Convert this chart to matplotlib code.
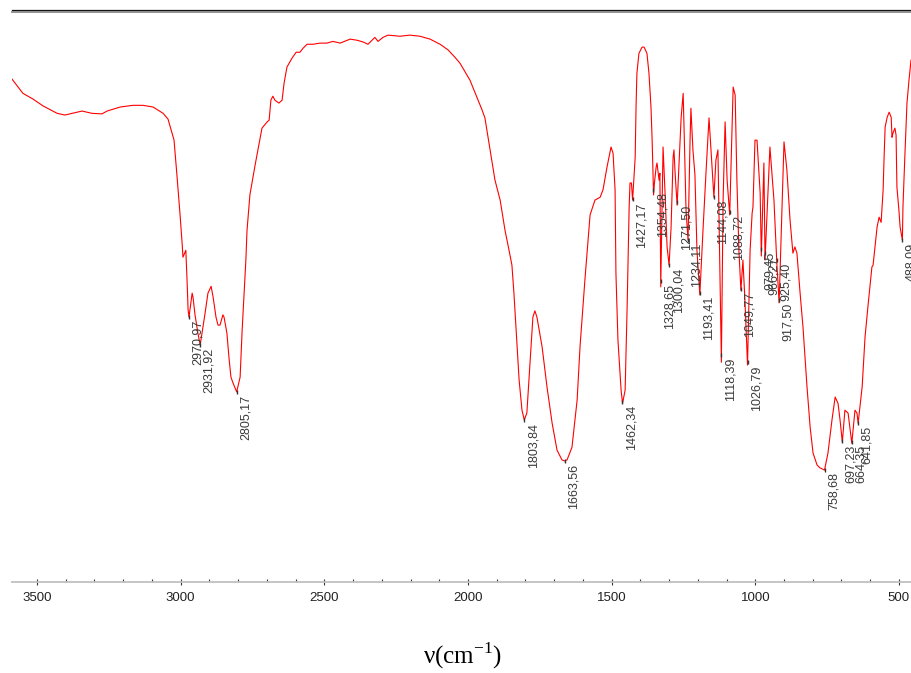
import matplotlib

matplotlib.use("Agg")
import matplotlib.pyplot as plt
import numpy as np
from matplotlib.lines import Line2D

# IR spectrum: wavenumber (cm-1) and transmittance (%),
# kept in short spectral segments so each pair of lists lines up.
wn_oh = [3587, 3549, 3514, 3479, 3430, 3403, 3378, 3343, 3309, 3274,
         3256, 3211, 3166, 3131, 3096, 3061, 3044]
t_oh = [88.1, 85.6, 84.6, 83.4, 82.1, 81.8, 82.1, 82.5, 82.1, 82.0,
        82.5, 83.2, 83.5, 83.5, 83.2, 82.1, 81.1]

wn_ch = [3023, 3013, 3002, 2995, 2992, 2982, 2978, 2974, 2971, 2960,
         2957, 2950, 2940, 2932, 2915, 2905, 2894, 2887, 2877, 2870,
         2863, 2853, 2849, 2839, 2832, 2825, 2818, 2805, 2793, 2786,
         2780, 2773, 2769]
t_ch = [77.4, 71.3, 64.3, 59.4, 56.9, 58.1, 53.2, 47.6, 46.4, 50.6,
        49.9, 46.8, 43.6, 41.5, 47.1, 50.6, 51.8, 49.9, 46.4, 45.0,
        45.0, 46.8, 46.4, 43.6, 39.4, 35.9, 34.9, 33.3, 35.9, 44.1,
        49.9, 56.4, 61.6]

wn_flat = [2759, 2741, 2717, 2699, 2692, 2686, 2679, 2672, 2658, 2647,
           2640, 2630, 2612, 2598, 2585, 2574, 2560, 2539, 2515, 2491,
           2470, 2445, 2410, 2386, 2365, 2348, 2324, 2313, 2296, 2278,
           2237, 2202, 2167, 2132, 2097, 2069, 2045, 2028, 1993, 1969,
           1951, 1941]
t_flat = [67.8, 73.0, 79.5, 80.6, 80.9, 84.4, 85.1, 84.4, 83.9, 84.4,
          87.4, 90.2, 91.8, 92.8, 92.8, 93.5, 94.2, 94.2, 94.4, 94.4,
          94.7, 94.4, 95.1, 94.9, 94.6, 94.2, 95.4, 94.7, 95.4, 95.8,
          95.6, 95.8, 95.6, 95.1, 94.2, 93.2, 91.9, 90.9, 87.9, 84.9,
          82.7, 81.3]

wn_co = [1923, 1906, 1888, 1871, 1857, 1847, 1840, 1829, 1822, 1812,
         1804, 1795, 1784, 1774, 1767, 1760, 1742, 1725, 1707, 1690,
         1673, 1664, 1655, 1638, 1620, 1610, 1600, 1593, 1582, 1575,
         1558, 1540, 1530, 1516, 1502, 1495, 1488, 1485, 1478, 1467]
t_co = [75.7, 70.4, 66.9, 61.6, 58.1, 55.5, 50.6, 41.2, 35.4, 30.1,
        28.4, 29.6, 38.4, 46.4, 47.5, 46.4, 41.2, 34.2, 27.8, 23.1,
        21.4, 21.2, 21.4, 23.6, 31.9, 41.2, 48.2, 52.9, 59.9, 64.3,
        66.9, 67.4, 68.7, 72.7, 76.2, 75.1, 68.7, 54.1, 42.4, 33.6]

wn_fp1 = [1462, 1453, 1446, 1439, 1436, 1431, 1427, 1418, 1415, 1412,
          1405, 1394, 1387, 1377, 1370, 1363, 1359, 1354, 1351, 1345,
          1342, 1335, 1332, 1329]
t_fp1 = [31.3, 33.6, 48.2, 65.7, 69.9, 69.9, 66.9, 74.4, 83.2, 89.1,
         92.6, 93.7, 93.7, 92.6, 89.1, 83.2, 77.4, 67.8, 69.9, 72.7,
         73.4, 70.4, 71.6, 51.7]

wn_fp2 = [1321, 1314, 1307, 1300, 1293, 1286, 1283, 1279, 1272, 1265,
          1258, 1251, 1248, 1241, 1234, 1227, 1224, 1217, 1210, 1203,
          1193, 1182, 1171, 1161, 1154, 1144, 1137, 1130]
t_fp2 = [76.2, 68.1, 58.7, 55.5, 62.2, 74.4, 75.7, 71.6, 66.0, 73.9,
         81.4, 85.6, 79.7, 65.1, 59.9, 77.4, 83.0, 75.7, 71.3, 58.1,
         50.3, 61.6, 72.2, 81.3, 75.7, 67.4, 73.9, 75.7]

wn_fp3 = [1118, 1112, 1105, 1098, 1089, 1077, 1070, 1064, 1057, 1050,
          1043, 1036, 1027, 1018, 1011, 1008, 1001, 994, 983, 979,
          970, 966, 949, 935, 925, 917, 900, 890]
t_fp3 = [38.5, 66.9, 80.6, 70.4, 64.3, 86.7, 85.3, 70.4, 58.1, 51.1,
         56.4, 49.4, 38.0, 58.1, 64.6, 65.7, 77.4, 77.4, 68.1, 57.1,
         73.4, 56.4, 76.2, 66.9, 55.9, 48.9, 77.1, 72.2]

wn_low = [879, 869, 862, 855, 844, 834, 820, 809, 799, 785,
          775, 759, 747, 733, 722, 712, 705, 697, 688, 677,
          664, 653, 646, 642, 628, 618, 608, 594, 590, 576,
          569, 562, 555, 552, 548, 541, 534, 527, 524, 521,
          514, 510, 507, 500, 496, 488, 486, 479, 472, 465,
          458]
t_low = [63.4, 57.6, 58.7, 57.6, 50.6, 44.7, 34.2, 27.1, 22.6, 20.5,
         20.0, 19.6, 22.6, 28.4, 32.4, 31.3, 28.4, 24.5, 30.1, 29.6,
         24.3, 30.1, 29.6, 27.8, 34.2, 42.9, 48.2, 55.2, 55.5, 62.2,
         63.9, 63.0, 68.7, 73.9, 79.7, 81.4, 82.3, 81.4, 77.9, 78.6,
         79.5, 78.3, 69.2, 65.1, 62.2, 59.9, 65.7, 75.1, 83.9, 87.9,
         91.4]

# annotated peaks
peak_wn = [
    2970.97, 2931.92, 2805.17, 1803.84, 1663.56, 1462.34, 1427.17, 1354.48,
    1328.65, 1300.04, 1271.50, 1234.11, 1193.41, 1144.08, 1118.39, 1088.72,
    1049.77, 1026.79, 979.45, 966.27, 925.40, 917.50, 758.68, 697.23,
    664.35, 641.85, 488.09,
]
peak_labels = [f"{w:.2f}".replace(".", ",") for w in peak_wn]

x_ticks = [3500, 3000, 2500, 2000, 1500, 1000, 500]

wavenumber = wn_oh + wn_ch + wn_flat + wn_co + wn_fp1 + wn_fp2 + wn_fp3 + wn_low
transmittance = t_oh + t_ch + t_flat + t_co + t_fp1 + t_fp2 + t_fp3 + t_low

plt.rcParams["mathtext.fontset"] = "custom"
plt.rcParams["mathtext.rm"] = "Liberation Serif"

fig = plt.figure(figsize=(9.11, 6.73), dpi=100)
ax = fig.add_axes([12 / 911, 1 - 582 / 673, 899 / 911, 572 / 673])

ax.plot(wavenumber, transmittance, color="#ff0000", linewidth=0.8)

wn_sorted = np.array(wavenumber[::-1], dtype=float)
t_sorted = np.array(transmittance[::-1], dtype=float)
for w, label in zip(peak_wn, peak_labels):
    t = np.interp(w, wn_sorted, t_sorted)
    ax.plot([w], [t], marker="|", markersize=3, color="#333333", linewidth=0)
    ax.annotate(
        label, (w, t), xytext=(6.5, -2), textcoords="offset points",
        rotation=90, ha="center", va="top", fontsize=9, color="#3a3a3a",
        family=["Liberation Sans", "DejaVu Sans"],
    )

ax.set_xlim(3587, 458)
ax.set_ylim(0, 100.2)
ax.set_yticks([])
ax.set_xticks(x_ticks)
ax.set_xticks(np.arange(600, 3600, 100), minor=True)
ax.tick_params(axis="x", which="major", direction="inout", length=4, width=0.8,
               color="#333333", pad=5, labelsize=9.5)
ax.tick_params(axis="x", which="minor", direction="in", length=2, width=0.8,
               color="#333333")
for lab in ax.get_xticklabels():
    lab.set_family(["Liberation Sans Narrow", "Liberation Sans", "DejaVu Sans"])
    lab.set_color("#222222")

for side in ("left", "right"):
    ax.spines[side].set_visible(False)
ax.spines["bottom"].set_color("#c0c0c0")
ax.spines["bottom"].set_linewidth(1.3)
ax.spines["top"].set_color("#111111")
ax.spines["top"].set_linewidth(0.9)
fig.add_artist(Line2D([12 / 911, 1], [1 - 12 / 673] * 2, color="#888888",
                      linewidth=1.3, transform=fig.transFigure))

fig.text(462 / 911, 1 - 656 / 673, "ν(cm$^{\\mathregular{-1}}$)", ha="center",
         va="center", fontsize=18, family="Liberation Serif")

fig.savefig("out.png", dpi=100)
